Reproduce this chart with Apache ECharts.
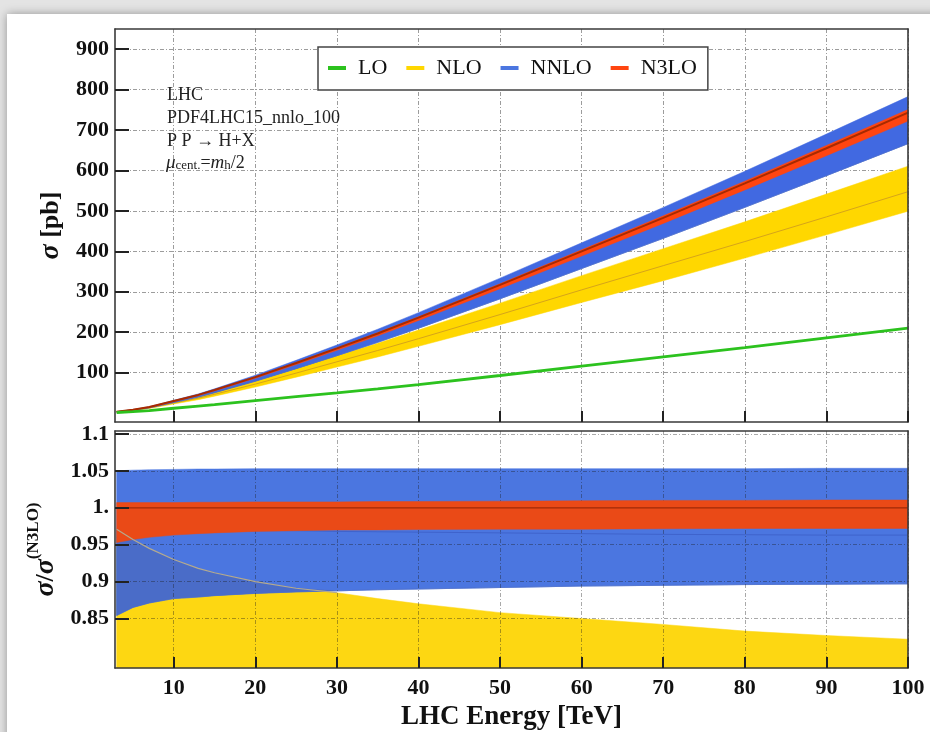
<!DOCTYPE html>
<html><head><meta charset="utf-8">
<script src="https://cdn.jsdelivr.net/npm/echarts@6/dist/echarts.min.js"></script>
<style>
html,body{margin:0;padding:0;background:#e4e4e4;overflow:hidden}
#paper{position:absolute;left:7px;top:14px;width:940px;height:740px;background:#fff;box-shadow:0 0 9px rgba(0,0,0,0.35)}
#c{position:absolute;left:0;top:0;width:930px;height:732px}
</style>
</head><body><div id="paper"></div><div id="c"></div>
<script>
// ---------------- data ----------------
const energy    = [3, 5, 7, 10, 13, 15, 20, 25, 30, 35, 40, 50, 60, 70, 80, 90, 100];          // TeV
const sigmaLO   = [1.5, 3.5, 6, 12, 17.5, 21, 31, 40.5, 50, 60, 70.5, 93, 116, 139, 162, 186, 210]; // pb
const sigmaN3LO = [3.5, 8.5, 15, 30, 45, 57, 89, 124, 160, 197, 236, 317, 400, 483, 568, 655, 743]; // pb (central)
// ratios to central N3LO
const rN3LOlo   = [0.953, 0.957, 0.960, 0.963, 0.965, 0.966, 0.968, 0.969, 0.970, 0.970, 0.9705, 0.971, 0.971, 0.9715, 0.972, 0.972, 0.972];
const rN3LOhi   = [1.007, 1.007, 1.007, 1.007, 1.0075, 1.0075, 1.008, 1.008, 1.008, 1.0085, 1.0085, 1.009, 1.0095, 1.010, 1.010, 1.0105, 1.0105];
const rNNLOlo   = [0.854, 0.865, 0.871, 0.877, 0.879, 0.881, 0.884, 0.886, 0.8875, 0.889, 0.890, 0.892, 0.894, 0.895, 0.896, 0.8965, 0.897];
const rNNLOcen  = [0.960, 0.965, 0.967, 0.968, 0.969, 0.969, 0.969, 0.969, 0.968, 0.9675, 0.967, 0.966, 0.965, 0.964, 0.9635, 0.963, 0.963];
const rNNLOhi   = [1.050, 1.051, 1.0515, 1.052, 1.0525, 1.0525, 1.053, 1.053, 1.053, 1.053, 1.053, 1.053, 1.053, 1.053, 1.053, 1.0535, 1.0535];
const rNLOlo    = [0.765, 0.767, 0.760, 0.750, 0.740, 0.735, 0.725, 0.717, 0.712, 0.705, 0.700, 0.690, 0.684, 0.678, 0.675, 0.673, 0.672];
const rNLOcen   = [0.862, 0.852, 0.843, 0.831, 0.821, 0.816, 0.806, 0.798, 0.793, 0.786, 0.780, 0.769, 0.762, 0.755, 0.747, 0.741, 0.737];
const rNLOhi    = [0.971, 0.957, 0.945, 0.930, 0.918, 0.912, 0.900, 0.891, 0.885, 0.877, 0.870, 0.858, 0.850, 0.842, 0.833, 0.827, 0.822];

const xTicks        = [10, 20, 30, 40, 50, 60, 70, 80, 90, 100];
const yTicksTop     = [100, 200, 300, 400, 500, 600, 700, 800, 900];
const yTicksRatio   = [0.85, 0.9, 0.95, 1, 1.05, 1.1];
const yLabelsRatio  = ['0.85', '0.9', '0.95', '1.', '1.05', '1.1'];
const legendNames   = ['LO', 'NLO', 'NNLO', 'N3LO'];
const infoLines     = ['LHC', 'PDF4LHC15_nnlo_100', 'P P \u2192 H+X'];

// ---------------- helpers ----------------
const FONT = '"Liberation Serif","Times New Roman",serif';
const abs = r => r.map((v, i) => v * sigmaN3LO[i]);
const ones = energy.map(() => 1);
const overlapHi = rNNLOlo.map((v, i) => Math.max(v, rNLOhi[i]));
const pairs = ys => energy.map((e, i) => [e, ys[i]]);

const C = {
  lo: '#2cc21e', nlo: '#ffd700', nloR: '#fdd712', nloLine: '#d6a41a',
  nnlo: '#4169e1', nnloR: '#4b76e0', overlap: '#4a6cc8',
  n3lo: '#ff4510', n3loR: '#ea4a17', n3loLine: '#a82a00'
};

function band(name, xi, lo, hi, color, z) {
  return {
    type: 'custom', name, xAxisIndex: xi, yAxisIndex: xi, z, silent: true,
    itemStyle: { color },
    data: energy.map((e, i) => [e, lo[i], hi[i]]),
    encode: { x: 0, y: [1, 2] },
    renderItem(params, api) {
      if (params.dataIndex !== 0) return null;
      const cs = params.coordSys;
      const clampY = p => [p[0], Math.max(cs.y, Math.min(cs.y + cs.height, p[1]))];
      const pts = [];
      for (let i = 0; i < energy.length; i++) pts.push(clampY(api.coord([energy[i], hi[i]])));
      for (let i = energy.length - 1; i >= 0; i--) pts.push(clampY(api.coord([energy[i], lo[i]])));
      return { type: 'polygon', shape: { points: pts }, style: { fill: color, stroke: color, lineWidth: 0.5 } };
    }
  };
}
function line(name, xi, data, color, width, z) {
  return {
    type: 'line', name, xAxisIndex: xi, yAxisIndex: xi, z, silent: true,
    data, showSymbol: false, symbol: 'none', clip: true,
    itemStyle: { color }, lineStyle: { color, width }
  };
}

// ---------------- axes ----------------
const tickLine = { color: '#222', width: 2 };
const frameLine = { show: true, onZero: false, lineStyle: { color: '#3a3a3a', width: 1.6 } };
const gridTop = { show: true, lineStyle: { color: '#9c9c9c', width: 1, type: [4, 2, 1, 2] } };
const gridRatio = { show: true, lineStyle: { color: 'rgba(30,30,30,0.38)', width: 1, type: [4, 2, 1, 2] } };
const labelFont = { fontFamily: FONT, fontSize: 22, fontWeight: 'bold', color: '#111' };
const XMIN = 2.8, XMAX = 100;
const YTOP = [-22, 950], YRAT = [0.783, 1.104];

function xAxes(g, splitStyle, withLabels) {
  const base = { type: 'value', gridIndex: g, min: XMIN, max: XMAX };
  return [
    Object.assign({}, base, { position: 'bottom', z: g ? 6 : 0, axisLine: { show: false, onZero: false },
      axisTick: { show: false, customValues: xTicks }, axisLabel: { show: false, customValues: xTicks }, splitLine: splitStyle }),
    Object.assign({}, base, { position: 'bottom', z: 10, axisLine: frameLine,
      axisTick: { show: true, inside: true, length: 11, customValues: xTicks, lineStyle: tickLine },
      axisLabel: Object.assign({ show: withLabels, customValues: xTicks, margin: 9 }, labelFont),
      splitLine: { show: false },
      name: withLabels ? 'LHC Energy [TeV]' : '', nameLocation: 'middle', nameGap: 36,
      nameTextStyle: { fontFamily: FONT, fontSize: 27, fontWeight: 'bold', color: '#111' } }),
    Object.assign({}, base, { position: 'top', z: 10, axisLine: frameLine, axisTick: { show: false },
      axisLabel: { show: false }, splitLine: { show: false } })
  ];
}
function yAxes(g, range, ticks, splitStyle, fmt, name, nameStyle, nameGap) {
  const base = { type: 'value', gridIndex: g, min: range[0], max: range[1] };
  return [
    Object.assign({}, base, { position: 'left', z: g ? 6 : 0, axisLine: { show: false, onZero: false },
      axisTick: { show: false, customValues: ticks }, axisLabel: { show: false, customValues: ticks }, splitLine: splitStyle }),
    Object.assign({}, base, { position: 'left', z: 10, axisLine: frameLine,
      axisTick: { show: true, inside: true, length: 14, customValues: ticks, lineStyle: tickLine },
      axisLabel: Object.assign({ show: true, customValues: ticks, margin: 6, formatter: fmt }, labelFont),
      splitLine: { show: false }, name, nameLocation: 'middle', nameRotate: 90, nameGap, nameTextStyle: nameStyle }),
    Object.assign({}, base, { position: 'right', z: 10, axisLine: frameLine, axisTick: { show: false },
      axisLabel: { show: false }, splitLine: { show: false } })
  ];
}

const topName = '{i|\u03c3} [pb]';
const topNameStyle = { fontFamily: FONT, fontSize: 26, fontWeight: 'bold', color: '#111',
  rich: { i: { fontFamily: FONT, fontSize: 28, fontWeight: 'bold', fontStyle: 'italic', color: '#111' } } };
const ratName = '{i|\u03c3}{m|/}{i|\u03c3}{s|(N3LO)}';
const ratNameStyle = { fontFamily: FONT, fontSize: 26, fontWeight: 'bold', color: '#111',
  rich: {
    i: { fontFamily: FONT, fontSize: 28, fontWeight: 'bold', fontStyle: 'italic', color: '#111', lineHeight: 34, verticalAlign: 'bottom' },
    m: { fontFamily: FONT, fontSize: 26, fontWeight: 'bold', color: '#111', lineHeight: 34, verticalAlign: 'bottom' },
    s: { fontFamily: FONT, fontSize: 17, fontWeight: 'bold', color: '#111', lineHeight: 18, verticalAlign: 'top' }
  } };

const option = {
  animation: false,
  backgroundColor: 'transparent',
  grid: [
    { left: 115, top: 29, width: 793, height: 393 },
    { left: 115, top: 431, width: 793, height: 237 }
  ],
  xAxis: [].concat(xAxes(0, gridTop, false), xAxes(1, gridRatio, true)),
  yAxis: [].concat(
    yAxes(0, YTOP, yTicksTop, gridTop, v => String(v), topName, topNameStyle, 48),
    yAxes(1, YRAT, yTicksRatio, gridRatio, v => yLabelsRatio[yTicksRatio.findIndex(t => Math.abs(t - v) < 1e-6)], ratName, ratNameStyle, 54)
  ),
  legend: {
    left: 318, top: 47, padding: [10, 11, 11, 10], itemGap: 19, itemWidth: 18, itemHeight: 4,
    borderColor: '#444', borderWidth: 1.5, backgroundColor: '#fff', selectedMode: false, z: 20,
    textStyle: { fontFamily: FONT, fontSize: 22, color: '#111', padding: [0, 0, 0, 7] },
    data: legendNames.map((n, i) => ({ name: n, icon: 'rect', itemStyle: { color: [C.lo, C.nlo, C.nnloR, C.n3lo][i] } }))
  },
  graphic: infoLines.map((t, i) => ({
    type: 'text', left: 167, top: 86 + i * 23, z: 30,
    style: { text: t, font: '18px ' + FONT, fill: '#222' }
  })).concat([{
    type: 'text', left: 166, top: 153, z: 30,
    style: {
      text: '{i|\u03bc}{s|cent.}{n|=}{i|m}{s|h}{n|/2}', fill: '#222',
      rich: {
        i: { fontFamily: FONT, fontSize: 19, fontStyle: 'italic', fill: '#222', lineHeight: 22, verticalAlign: 'bottom' },
        n: { fontFamily: FONT, fontSize: 18, fill: '#222', lineHeight: 22, verticalAlign: 'bottom' },
        s: { fontFamily: FONT, fontSize: 13, fill: '#222', lineHeight: 12, verticalAlign: 'bottom' }
      }
    }
  }]),
  series: [
    // ---- top panel ----
    band('NLO', 0, abs(rNLOlo), abs(rNLOhi), C.nlo, 2),
    line('NLO', 0, pairs(abs(rNLOcen)), C.nloLine, 1, 3),
    band('NNLO', 0, abs(rNNLOlo), abs(rNNLOhi), C.nnlo, 4),
    band('NNLO', 0, abs(rNNLOlo), abs(overlapHi), C.overlap, 5),
    band('N3LO', 0, abs(rN3LOlo), abs(rN3LOhi), C.n3lo, 7),
    line('N3LO', 0, pairs(sigmaN3LO), C.n3loLine, 2, 8),
    line('LO', 0, pairs(sigmaLO), C.lo, 2.8, 9),
    // ---- ratio panel ----
    band('NLO', 3, rNLOlo, rNLOhi, C.nloR, 2),
    band('NNLO', 3, rNNLOlo, rNNLOhi, C.nnloR, 4),
    band('NNLO', 3, rNNLOlo, overlapHi, C.overlap, 5),
    line('NNLO', 3, pairs(rNNLOcen), '#3f63cc', 1, 6),
    band('N3LO', 3, rN3LOlo, rN3LOhi, C.n3loR, 7),
    line('N3LO', 3, pairs(ones), '#9e2a08', 1.2, 8),
    line('NLO', 3, pairs(rNLOhi).filter((p, i) => i === 0 || rNLOhi[i - 1] >= rNNLOlo[i - 1]), '#b4aa8e', 1.2, 9)
  ]
};

const chart = echarts.init(document.getElementById('c'), null, { renderer: 'canvas' });
chart.setOption(option);
</script>
</body></html>
